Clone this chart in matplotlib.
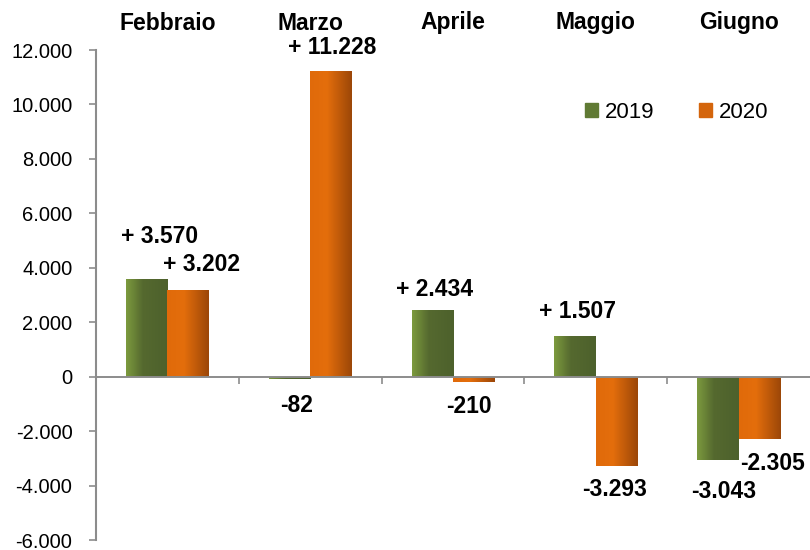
import numpy as np
import matplotlib.pyplot as plt
from matplotlib.colors import LinearSegmentedColormap
from matplotlib.patches import Patch
from matplotlib.ticker import FuncFormatter

plt.rcParams['font.family'] = ['Liberation Sans', 'DejaVu Sans']

months = ['Febbraio', 'Marzo', 'Aprile', 'Maggio', 'Giugno']
v2019 = [3570, -82, 2434, 1507, -3043]
v2020 = [3202, 11228, -210, -3293, -2305]

# label offsets in pixels (dx, dy) relative to the bar end
off2019 = [(13, 43), (7, -27), (2, 21), (2, 24), (6, -32)]
off2020 = [(13, 25), (1, 24), (-5, -24), (-2, -23), (13, -24)]

green = LinearSegmentedColormap.from_list(
    'g', [(0, '#7c9a3e'), (0.4, '#55692f'), (1, '#4d612c')])
orange = LinearSegmentedColormap.from_list(
    'o', [(0, '#e06a0a'), (0.4, '#e46e0c'), (1, '#9c4708')])

fig = plt.figure(figsize=(8.1, 5.5), dpi=100)
ax = fig.add_axes([96 / 810, 10 / 550, 714 / 810, 490 / 550])

x = np.arange(len(months))
w = 0.29
grad = np.linspace(0, 1, 64).reshape(1, -1)


def gradient_bars(xs, vals, cmap):
    bars = ax.bar(xs, vals, w, color='none', edgecolor='none')
    for b in bars:
        x0, y0 = b.get_x(), b.get_y()
        x1, y1 = x0 + b.get_width(), y0 + b.get_height()
        im = ax.imshow(grad, cmap=cmap, aspect='auto',
                       extent=(x0, x1, min(y0, y1), max(y0, y1)),
                       zorder=2)
        im.set_clip_path(b)
    return bars


b19 = gradient_bars(x - w / 2, v2019, green)
b20 = gradient_bars(x + w / 2, v2020, orange)


def fmt(v, sign=False):
    s = f'{abs(v):,}'.replace(',', '.')
    if v < 0:
        return '-' + s
    return ('+ ' if sign else '') + s


px = 0.72  # points per pixel at 100 dpi
for bars, vals, offs in ((b19, v2019, off2019), (b20, v2020, off2020)):
    for b, v, (dx, dy) in zip(bars, vals, offs):
        ax.annotate(fmt(v, sign=True), (b.get_x() + b.get_width() / 2, v),
                    xytext=(dx * px, dy * px), textcoords='offset points',
                    ha='center', va='center', fontsize=16.5,
                    fontweight='bold', color='black')

for i, m in enumerate(months):
    ax.text(i, 1.0 + 27 / 490, m, transform=ax.get_xaxis_transform(),
            ha='center', va='center', fontsize=16.5, fontweight='bold')

ax.set_xlim(-0.5, 4.5)
ax.set_ylim(-6000, 12000)
ax.set_yticks(np.arange(-6000, 12001, 2000))
ax.yaxis.set_major_formatter(FuncFormatter(lambda v, p: fmt(int(v))))
ax.tick_params(axis='y', labelsize=14.5, length=5, width=1.2,
               color='#8c8c8c', pad=12, direction='out')

ax.spines['top'].set_visible(False)
ax.spines['right'].set_visible(False)
ax.spines['left'].set_color('#8c8c8c')
ax.spines['left'].set_linewidth(1.5)
ax.spines['bottom'].set_position(('data', 0))
ax.spines['bottom'].set_color('#8c8c8c')
ax.spines['bottom'].set_linewidth(1.4)
ax.set_xticks(x[:-1] + 0.5)
ax.set_xticklabels([])
ax.tick_params(axis='x', length=5, width=1.2, color='#8c8c8c',
               direction='out')

handles = [Patch(color='#607a34'), Patch(color='#d4650c')]
ax.legend(handles, ['2019', '2020'], loc='upper right',
          bbox_to_anchor=(0.97, 0.935), ncol=2, frameon=False,
          fontsize=16, handlelength=0.6, handleheight=0.6,
          handletextpad=0.3, columnspacing=2.0)

fig.savefig('out.png', dpi=100)
